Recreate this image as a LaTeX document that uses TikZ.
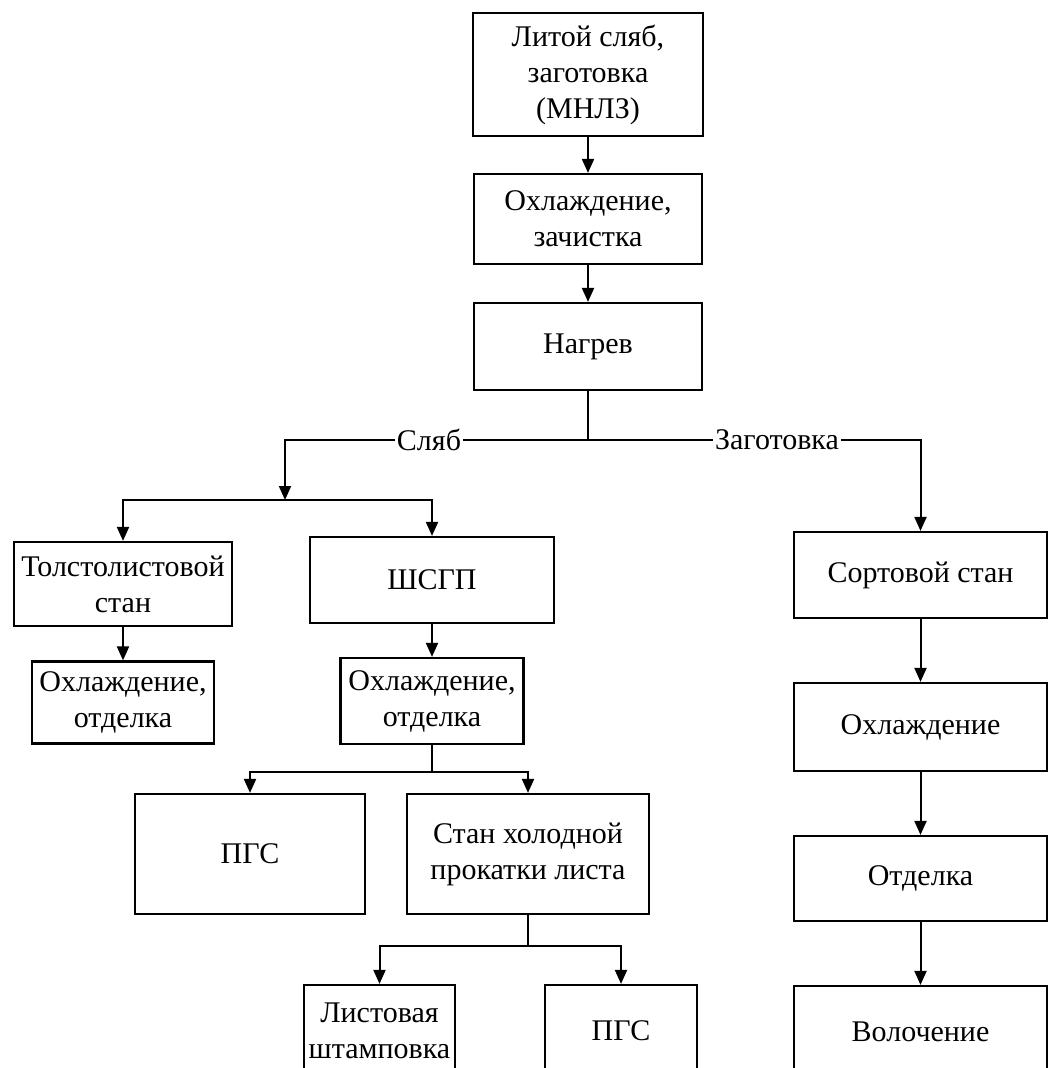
\documentclass[tikz,border=0pt]{standalone}
\usepackage{fontspec}
\setmainfont{Liberation Serif}
\usetikzlibrary{arrows.meta}
\begin{document}
\begin{tikzpicture}[x=1pt,y=-1pt,
  box/.style={draw, line width=2.2pt, align=center, inner sep=0pt,
    font=\fontsize{30}{36}\selectfont},
  lbl/.style={fill=white, inner sep=2pt, font=\fontsize{30}{36}\selectfont},
  link/.style={line width=2pt},
  arr/.style={line width=2pt, -{Triangle[length=14pt,width=12pt]}}]
\clip (0,0) rectangle (1048,1068);
\fill[white] (0,0) rectangle (1048,1068);

% main line: casting, cooling, heating
\node[box, minimum width=230, minimum height=123] (cast) at (588,74.5) {Литой сляб,\\заготовка\\(МНЛЗ)};
\node[box, minimum width=228, minimum height=90] (clean) at (588,219) {Охлаждение,\\зачистка};
\node[box, minimum width=228, minimum height=87] (heat) at (588,346.5) {Нагрев};
\coordinate (fork) at (588,440);
\node[lbl] (slab) at (429,440) {Сляб};
\node[lbl] (billet) at (777,440) {Заготовка};
\coordinate (slabfork) at (285,500);

% slab branch
\node[box, minimum width=218, minimum height=84] (plate) at (123,584) {Толстолистовой\\стан};
\node[box, minimum width=182, minimum height=82] (platefin) at (123,702.5) {Охлаждение,\\отделка};
\node[box, minimum width=244, minimum height=86] (hsm) at (432,580) {ШСГП};
\node[box, minimum width=183, minimum height=86] (hsmfin) at (432,701) {Охлаждение,\\отделка};
\coordinate (hsmfork) at (432,772);
\node[box, minimum width=230, minimum height=120] (pgs) at (250,854) {ПГС};
\node[box, minimum width=242, minimum height=120] (cold) at (528,854) {Стан холодной\\прокатки листа};
\coordinate (coldfork) at (528,946);
\node[box, minimum width=151, minimum height=92] (stamp) at (379.5,1031) {Листовая\\штамповка};
\node[box, minimum width=152, minimum height=92] (pgsb) at (621,1031) {ПГС};

% billet branch
\node[box, minimum width=253, minimum height=86] (sect) at (920.5,575) {Сортовой стан};
\node[box, minimum width=253, minimum height=88] (sectcool) at (920.5,727) {Охлаждение};
\node[box, minimum width=253, minimum height=85] (sectfin) at (920.5,878.5) {Отделка};
\node[box, minimum width=253, minimum height=92] (wire) at (920.5,1032) {Волочение};

% connectors
\draw[arr] (cast) -- (clean);
\draw[arr] (clean) -- (heat);
\draw[link] (heat.south) -- (fork);
\draw[link] (fork) -- (slab.east);
\draw[arr] (slab.west) -| (slabfork);
\draw[arr] (slabfork) -| (plate.north);
\draw[arr] (slabfork) -| (hsm.north);
\draw[arr] (plate) -- (platefin);
\draw[arr] (hsm) -- (hsmfin);
\draw[link] (hsmfin.south) -- (hsmfork);
\draw[arr] (hsmfork) -| (pgs.north);
\draw[arr] (hsmfork) -| (cold.north);
\draw[link] (cold.south) -- (coldfork);
\draw[arr] (coldfork) -| (stamp.north);
\draw[arr] (coldfork) -| (pgsb.north);
\draw[link] (fork) -- (billet.west);
\draw[arr] (billet.east) -| (sect.north);
\draw[arr] (sect) -- (sectcool);
\draw[arr] (sectcool) -- (sectfin);
\draw[arr] (sectfin) -- (wire);
\end{tikzpicture}
\end{document}
